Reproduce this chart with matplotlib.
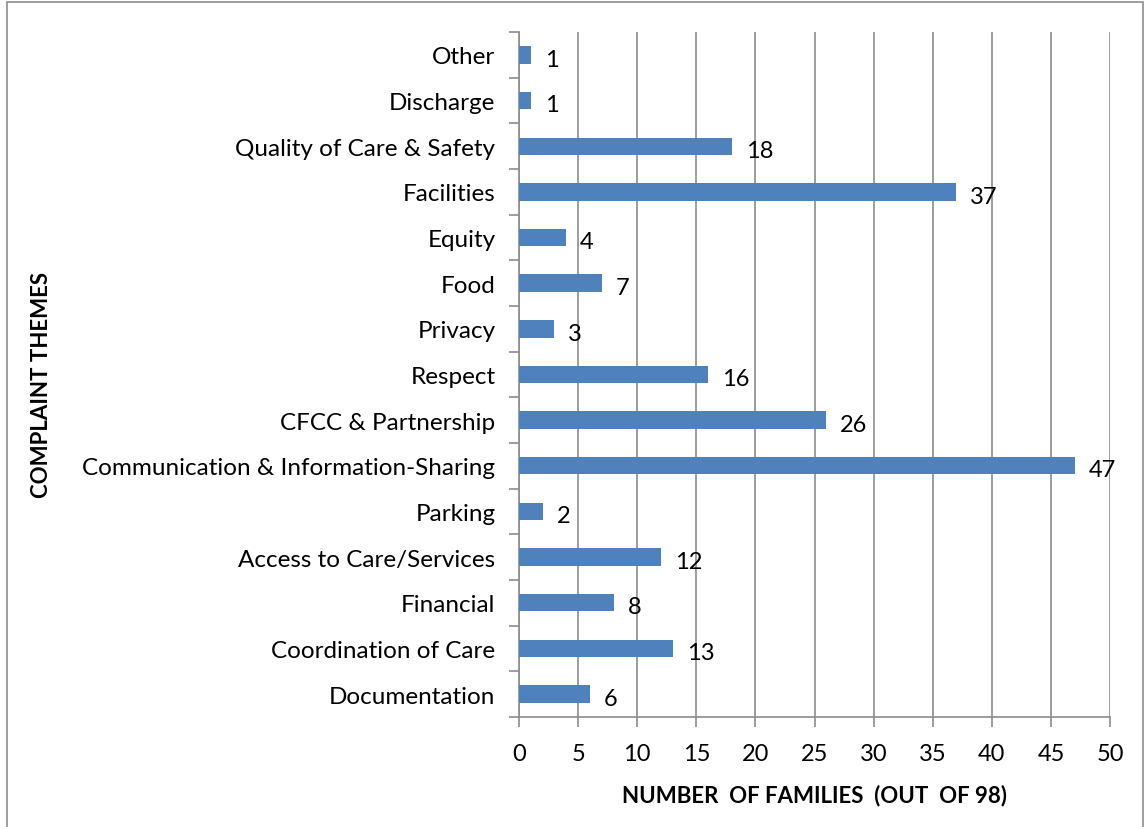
import numpy as np
import matplotlib.pyplot as plt
from matplotlib.patches import Rectangle

# complaint themes, bottom to top as drawn
themes = ['Documentation', 'Coordination of Care', 'Financial', 'Access to Care/Services',
          'Parking', 'Communication & Information-Sharing', 'CFCC & Partnership', 'Respect',
          'Privacy', 'Food', 'Equity', 'Facilities', 'Quality of Care & Safety',
          'Discharge', 'Other']
families = [6, 13, 8, 12, 2, 47, 26, 16, 3, 7, 4, 37, 18, 1, 1]
x_ticks = [0, 5, 10, 15, 20, 25, 30, 35, 40, 45, 50]

plt.rcParams['font.family'] = ['Lato', 'DejaVu Sans']

fig = plt.figure(figsize=(11.45, 8.28), dpi=100)
ax = fig.add_axes([0.4533, 0.1329, 0.5162, 0.8272])

y = np.arange(len(themes))
ax.barh(y, families, height=0.38, color='#4F81BD', zorder=3)

for yi, v in zip(y, families):
    ax.annotate(str(v), (v, yi), xytext=(10, -3), textcoords='offset points',
                ha='left', va='center', fontsize=17, color='black')

ax.set_xlim(0, 50)
ax.set_ylim(-0.5, len(themes) - 0.5)
ax.set_xticks(x_ticks)
ax.set_yticks(y)
ax.set_yticklabels(themes, fontsize=17.5)
ax.set_yticks(np.arange(-0.5, len(themes), 1), minor=True)
ax.tick_params(axis='y', which='major', length=0, pad=17)
ax.tick_params(axis='y', which='minor', length=7, width=1.2, color='#8c8c8c', direction='out')
ax.tick_params(axis='x', length=7, width=1.2, color='#8c8c8c', labelsize=17, pad=12)

ax.grid(axis='x', color='#8c8c8c', linewidth=1.2, zorder=0)
for s in ['top', 'right']:
    ax.spines[s].set_visible(False)
for s in ['left', 'bottom']:
    ax.spines[s].set_color('#8c8c8c')
    ax.spines[s].set_linewidth(1.2)

ax.set_xlabel('NUMBER  OF FAMILIES  (OUT  OF 98)', fontsize=16, fontweight='bold', labelpad=14)
fig.text(0.036, 0.535, 'COMPLAINT THEMES', rotation=90, ha='center', va='center',
         fontsize=16, fontweight='bold')

# chart border
fig.patches.append(Rectangle((0.006, -0.01), 0.992, 1.006, transform=fig.transFigure,
                             fill=False, edgecolor='#8c8c8c', linewidth=1.2))

fig.savefig('out.png', dpi=100)
